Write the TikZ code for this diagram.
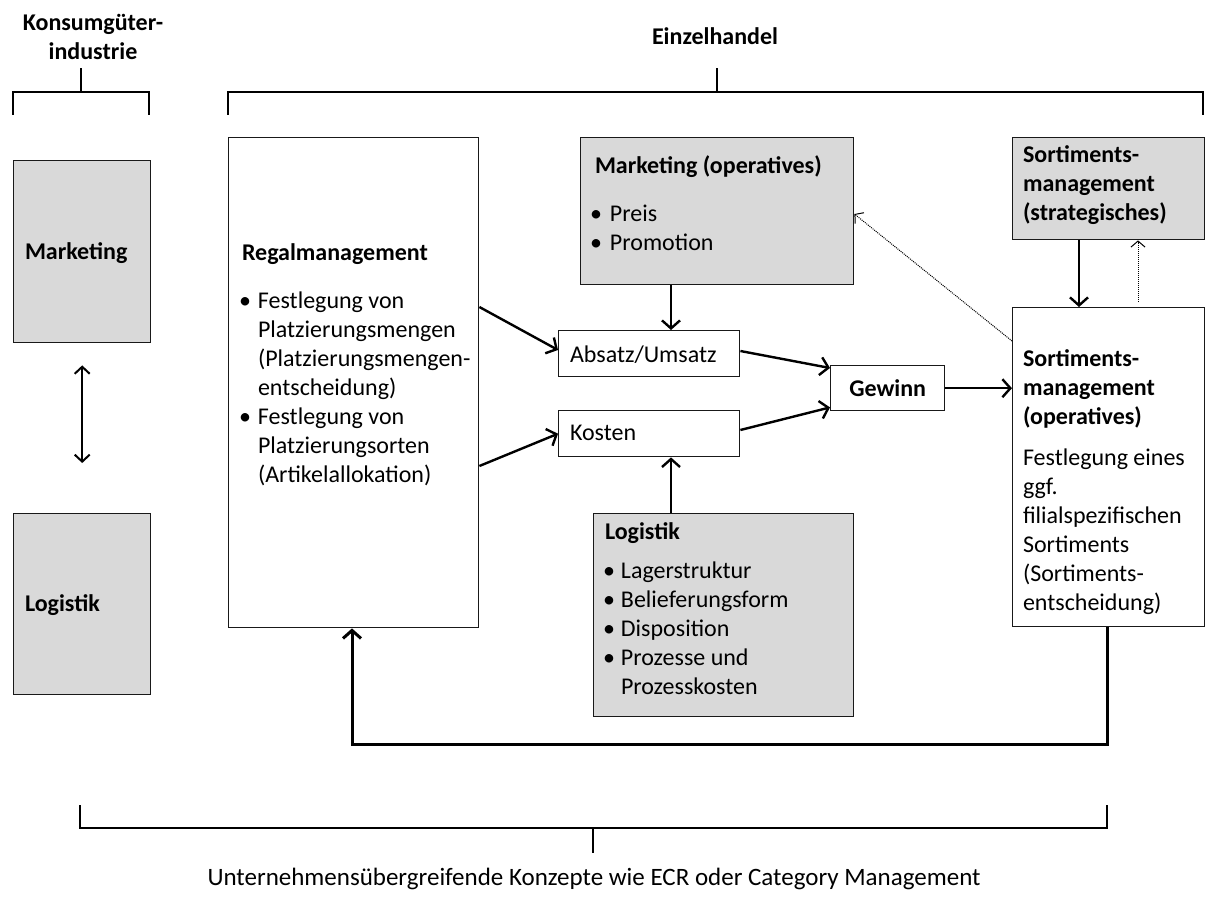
\documentclass[tikz,border=0pt]{standalone}
\usepackage{fontspec}
\setmainfont{Carlito}
\usetikzlibrary{arrows.meta,calc}
\definecolor{boxgray}{RGB}{217,217,217}
\newcommand\bulitem[1][19pt]{\makebox[#1][l]{•}}
\newcommand\bulgap[1][19pt]{\hspace*{#1}}
\begin{document}
\begin{tikzpicture}[x=1pt,y=-1pt,
  box/.style={draw=black!90, line width=1.4pt, inner sep=0pt, anchor=north west},
  graybox/.style={box, fill=boxgray},
  txt/.style={anchor=north west, inner sep=0pt, outer sep=0pt, align=left, font=\fontsize{24}{29}\selectfont},
  btxt/.style={txt, font=\fontsize{24}{29}\selectfont\bfseries},
  brace/.style={line width=2.5pt, line cap=rect},
  arr/.style={line width=2.4pt, -{Straight Barb[length=8pt,width=18pt]}},
  darr/.style={line width=1pt, dash pattern=on 1pt off 1pt, -{Straight Barb[length=6pt,width=14pt]}},
  dblarr/.style={line width=2pt, {Straight Barb[length=7pt,width=15pt]}-{Straight Barb[length=7pt,width=15pt]}}]
\useasboundingbox (0,0) rectangle (1205,899);

% group headings and their brackets
\node[btxt, anchor=north, align=center] (kgi) at (93,10.2) {\strut Konsumgüter-\\industrie};
\node[btxt, anchor=north] (ezh) at (715,24.7) {\strut Einzelhandel};
\draw[brace] (13,114) -- (13,92) -- (149,92) -- (149,114);
\draw[brace] (81,92) -- (81,69);
\draw[brace] (228,114) -- (228,92) -- (1203,92) -- (1203,114);
\draw[brace] (717,92) -- (717,69);

% industry side
\node[graybox, minimum width=137pt, minimum height=182pt] (mk) at (13,160) {};
\node[btxt] (mkT) at (25,238.7) {\strut Marketing};
\node[graybox, minimum width=137pt, minimum height=181pt] (lg) at (13,513) {};
\node[btxt] (lgT) at (25,590.7) {\strut Logistik};
\draw[dblarr, shorten <=22pt, shorten >=50pt] (mk.south) -- (lg.north);

% shelf management
\node[box, minimum width=250pt, minimum height=490pt] (regal) at (228,137) {};
\node[btxt] (regalT) at (242,239.7) {\strut Regalmanagement};
\node[txt] (regalL) at (239,287.7) {\strut\bulitem Festlegung von\\\bulgap Platzierungsmengen\\\bulgap (Platzierungsmengen-\\\bulgap entscheidung)\\\bulitem Festlegung von\\\bulgap Platzierungsorten\\\bulgap (Artikelallokation)};

% operative marketing
\node[graybox, minimum width=273pt, minimum height=147pt] (mop) at (580,137) {};
\node[btxt] (mopT) at (595,152.7) {\strut Marketing (operatives)};
\node[txt] (mopL) at (590,200.7) {\strut\bulitem[20pt]Preis\\\bulitem[20pt]Promotion};

% strategic assortment management
\node[graybox, minimum width=192pt, minimum height=102pt] (sst) at (1012,137) {};
\node[btxt] (sstT) at (1023,141.7) {\strut Sortiments-\\management\\(strategisches)};

% sales, costs, profit
\node[box, minimum width=181pt, minimum height=46pt] (absatz) at (558,330) {};
\node[txt] (absatzT) at (570,341.7) {\strut Absatz/Umsatz};
\node[box, minimum width=181pt, minimum height=46pt] (kosten) at (558,410) {};
\node[txt] (kostenT) at (570,419.7) {\strut Kosten};
\node[box, minimum width=114pt, minimum height=45pt, font=\fontsize{24}{29}\selectfont\bfseries] (gew) at (830,365) {Gewinn};

% operative assortment management
\node[box, minimum width=192pt, minimum height=319pt] (sop) at (1012,307) {};
\node[btxt] (sopT) at (1023,345.7) {\strut Sortiments-\\management\\(operatives)};
\node[txt] (sopL) at (1023,444.7) {\strut Festlegung eines\\ggf.\\filialspezifischen\\Sortiments\\(Sortiments-\\entscheidung)};

% logistics
\node[graybox, minimum width=260pt, minimum height=203pt] (logc) at (593,513) {};
\node[btxt] (logcT) at (605,518.7) {\strut Logistik};
\node[txt] (logcL) at (603,557.7) {\strut\bulitem[18pt]Lagerstruktur\\\bulitem[18pt]Belieferungsform\\\bulitem[18pt]Disposition\\\bulitem[18pt]Prozesse und\\\bulgap[18pt]Prozesskosten};

% connectors
\draw[arr] ($(regal.north east)+(0,170)$) -- ($(absatz.north west)+(0,20)$);
\draw[arr] ($(regal.north east)+(0,329)$) -- (kosten.west);
\draw[arr] ($(mop.south west)+(91,0)$) -- ($(absatz.north west)+(113,0)$);
\draw[arr] ($(logc.north west)+(78,0)$) -- ($(kosten.south west)+(113,0)$);
\draw[arr] ($(absatz.north east)+(0,21)$) -- ($(gew.north west)+(0,3)$);
\draw[arr] ($(kosten.north east)+(0,20)$) -- ($(gew.south west)+(0,-4)$);
\draw[arr] (gew.east) -- (gew.east -| sop.west);
\draw[arr] ($(sst.south west)+(67,0)$) -- ($(sop.north west)+(67,0)$);
\draw[darr] ($(sop.north west)+(126,-5)$) -- ($(sst.south west)+(126,0)$);
\draw[darr] ($(sop.north west)+(0,34)$) -- ($(mop.north east)+(0,77)$);
\draw[arr, line width=3pt] ($(sop.south west)+(95,0)$) |- ($(regal.south west)+(124,116)$) -- ($(regal.south west)+(124,0)$);

% cross-company bracket
\draw[brace] (80,806) -- (80,828) -- (1107,828) -- (1107,806);
\draw[brace] (593,828) -- (593,852);
\node[txt, anchor=north, font=\fontsize{25}{29}\selectfont] (ecr) at (594,864.7) {\strut Unternehmensübergreifende Konzepte wie ECR oder Category Management};
\end{tikzpicture}
\end{document}
